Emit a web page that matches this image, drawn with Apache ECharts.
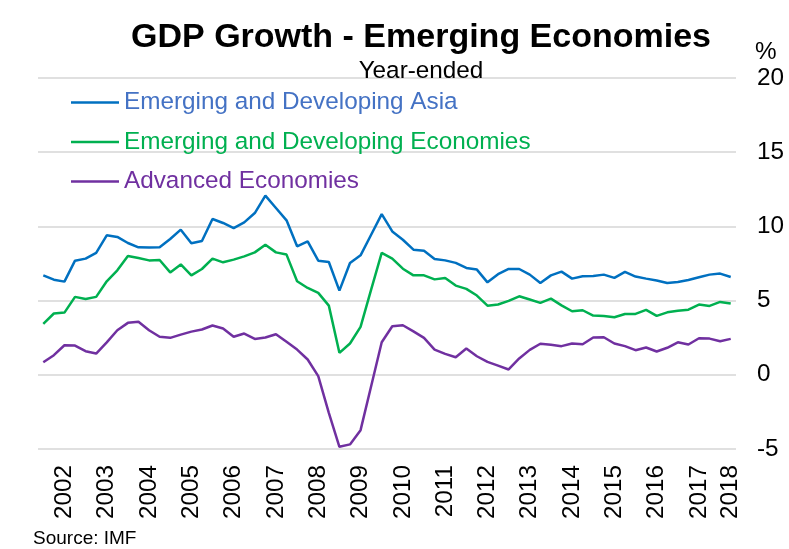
<!DOCTYPE html>
<html>
<head>
<meta charset="utf-8">
<title>GDP Growth - Emerging Economies</title>
<script src="https://cdn.jsdelivr.net/npm/echarts@6/dist/echarts.min.js"></script>
<style>
    html, body { margin: 0; padding: 0; background: #fff; }
    #main { width: 789px; height: 549px; }
</style>
</head>
<body>
<div id="main"></div>
<script>
// years shown on the axis, data runs 2002 Q1 to 2018 Q2
var years = ['2002', '2003', '2004', '2005', '2006', '2007', '2008', '2009', '2010',
    '2011', '2012', '2013', '2014', '2015', '2016', '2017', '2018'];

// year-ended growth, %
var asiaData = [6.70, 6.41, 6.28, 7.69, 7.83, 8.21, 9.40, 9.29, 8.88, 8.59, 8.57, 8.59,
    9.15, 9.78, 8.86, 9.02, 10.50, 10.23, 9.89, 10.27, 10.90, 12.07, 11.24, 10.41,
    8.66, 8.99, 7.69, 7.60, 5.67, 7.53, 8.05, 9.44, 10.83, 9.66, 9.10, 8.43,
    8.36, 7.81, 7.71, 7.54, 7.20, 7.09, 6.23, 6.78, 7.13, 7.13, 6.75, 6.19,
    6.70, 6.95, 6.48, 6.64, 6.66, 6.75, 6.53, 6.93, 6.62, 6.48, 6.35, 6.19,
    6.26, 6.39, 6.57, 6.75, 6.82, 6.59];
var emergingData = [3.43, 4.13, 4.19, 5.25, 5.11, 5.25, 6.30, 7.04, 8.01, 7.87, 7.71, 7.74,
    6.90, 7.44, 6.70, 7.13, 7.83, 7.58, 7.76, 7.98, 8.25, 8.77, 8.25, 8.10,
    6.30, 5.85, 5.52, 4.66, 1.48, 2.11, 3.23, 5.74, 8.21, 7.83, 7.15, 6.70,
    6.70, 6.43, 6.53, 6.01, 5.79, 5.34, 4.66, 4.74, 4.98, 5.29, 5.07, 4.85,
    5.13, 4.68, 4.28, 4.35, 3.99, 3.97, 3.88, 4.10, 4.10, 4.37, 3.97, 4.21,
    4.31, 4.39, 4.73, 4.64, 4.91, 4.80];
var advancedData = [0.85, 1.32, 1.99, 1.97, 1.59, 1.43, 2.19, 3.00, 3.50, 3.57, 3.00, 2.56,
    2.49, 2.71, 2.91, 3.05, 3.32, 3.12, 2.56, 2.78, 2.42, 2.51, 2.73, 2.22,
    1.70, 1.03, -0.09, -2.56, -4.85, -4.69, -3.73, -0.77, 2.19, 3.27, 3.34, 2.93,
    2.49, 1.70, 1.41, 1.18, 1.77, 1.25, 0.87, 0.62, 0.36, 1.10, 1.68, 2.09,
    2.02, 1.93, 2.11, 2.06, 2.51, 2.53, 2.11, 1.93, 1.66, 1.84, 1.57, 1.82,
    2.19, 2.04, 2.46, 2.44, 2.26, 2.42];

var seriesNames = ['Emerging and Developing Asia', 'Emerging and Developing Economies', 'Advanced Economies'];
var lineColors = ['#0070C0', '#00B050', '#7030A0'];
var textColors = ['#4472C4', '#00B050', '#7030A0'];
var yTicks = [-5, 0, 5, 10, 15, 20];

// quarter categories
var quarters = [];
for (var i = 0; i < asiaData.length; i++) {
    quarters.push(years[Math.floor(i / 4)] + 'Q' + (i % 4 + 1));
}

var font = '"Liberation Sans", Arial, sans-serif';
var fs = 24.3;
var myChart = echarts.init(document.getElementById('main'));

var option = {
    animation: false,
    backgroundColor: '#fff',
    title: {
        text: 'GDP Growth - Emerging Economies',
        subtext: 'Year-ended',
        left: 421,
        top: 21,
        textAlign: 'center',
        padding: 0,
        itemGap: 4,
        textStyle: { fontFamily: font, fontSize: 34, fontWeight: 'bold', color: '#000', lineHeight: 34 },
        subtextStyle: { fontFamily: font, fontSize: fs, color: '#000', lineHeight: 24 }
    },
    legend: {
        orient: 'vertical',
        left: 71,
        top: 90.5,
        padding: 0,
        itemGap: 15.5,
        itemWidth: 48,
        itemHeight: 2.5,
        icon: 'rect',
        textStyle: { fontFamily: font, fontSize: fs, lineHeight: 24 },
        data: seriesNames.map(function (n, k) {
            return { name: n, textStyle: { color: textColors[k] } };
        })
    },
    grid: { left: 38, right: 53, top: 78, bottom: 100 },
    xAxis: {
        type: 'category',
        data: quarters,
        boundaryGap: true,
        axisLine: { show: false },
        axisTick: { show: false },
        axisLabel: {
            rotate: 90,
            margin: 16,
            fontFamily: font,
            fontSize: fs,
            color: '#000',
            interval: function (idx, val) {
                return val.slice(4) === 'Q3' || idx === quarters.length - 1;
            },
            formatter: function (val) {
                return val.slice(0, 4);
            }
        }
    },
    yAxis: {
        type: 'value',
        position: 'right',
        min: yTicks[0],
        max: yTicks[yTicks.length - 1],
        interval: 5,
        axisLine: { show: false },
        axisTick: { show: false },
        axisLabel: { margin: 21, fontFamily: font, fontSize: fs, color: '#000' },
        splitLine: { lineStyle: { color: '#d6d6d6', width: 1.6 } }
    },
    graphic: [
        {
            type: 'text', left: 755, top: 40,
            style: { text: '%', fontFamily: font, fontSize: fs, fill: '#000' }
        },
        {
            type: 'text', left: 33, top: 529,
            style: { text: 'Source: IMF', fontFamily: font, fontSize: 19, fill: '#000' }
        }
    ],
    series: [asiaData, emergingData, advancedData].map(function (d, k) {
        return {
            name: seriesNames[k],
            type: 'line',
            data: d,
            symbol: 'none',
            color: lineColors[k],
            lineStyle: { width: 2.5, color: lineColors[k] }
        };
    })
};
myChart.setOption(option);
</script>
</body>
</html>
